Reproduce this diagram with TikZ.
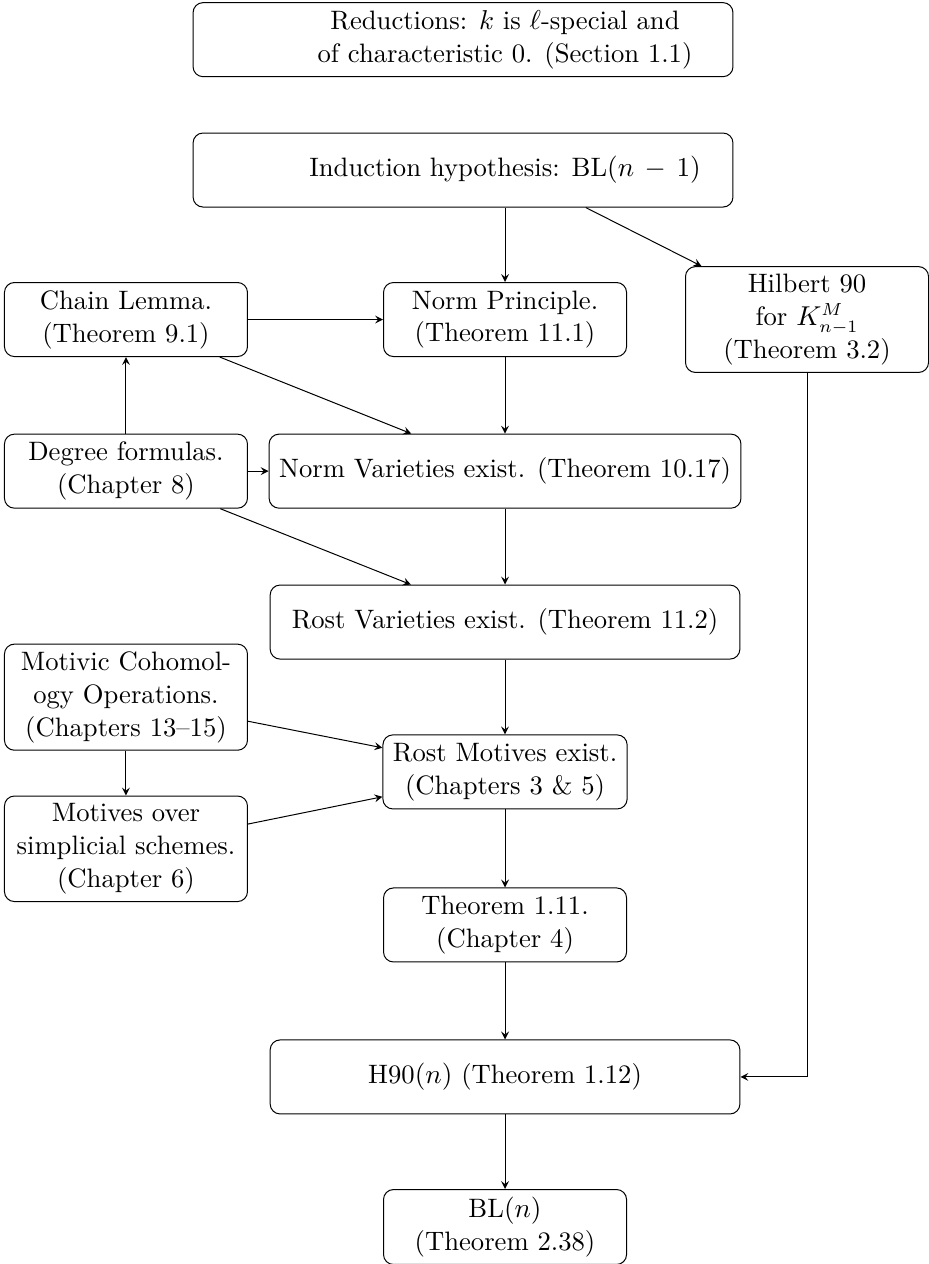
\documentclass[tikz,border=0pt]{standalone}
\usepackage{amsmath}
\usepackage{amssymb}
\usetikzlibrary{shapes,arrows,positioning,calc}

\tikzset{
  box/.style={draw,rectangle,rounded corners,align=center,minimum height=1.045cm,inner xsep=4pt,inner ysep=3pt,
    font=\fontsize{10.7}{13.2}\selectfont},
  smallbox/.style={box,minimum width=3.43cm},
  widebox/.style={box,minimum width=6.63cm},
  topbox/.style={box,minimum width=7.62cm},
  boxtext/.style={align=center,font=\fontsize{10.7}{13.2}\selectfont},
}

\begin{document}
\begin{tikzpicture}
    \useasboundingbox (0,0) rectangle (13.10,17.84);

    \node[topbox] (reduc) at (6.535,17.28) {};
    \node[topbox] (induc) at (6.535,15.44) {};

    \node[smallbox] (chain) at (1.778,13.33) {Chain Lemma.\\(Theorem 9.1)};
    \node[smallbox] (normpr) at (7.128,13.33) {Norm Principle.\\(Theorem 11.1)};
    \node[smallbox] (hilb) at (11.39,13.33) {Hilbert 90\\for $K^M_{n-1}$\\(Theorem 3.2)};

    % texts of the two top boxes sit over the middle column
    \node[boxtext] (reductext) at (reduc -| normpr) {Reductions: $k$ is $\ell$-special and\\of characteristic 0. (Section 1.1)};
    \node[boxtext] (inductext) at (induc -| normpr) {Induction hypothesis: BL$(n\,-\,1)$};

    \node[smallbox] (degree) at (1.778,11.19) {Degree formulas.\\(Chapter 8)};
    \node[widebox] (normvar) at (7.128,11.19) {Norm Varieties exist. (Theorem 10.17)};

    \node[widebox] (rostvar) at (7.128,9.06) {Rost Varieties exist. (Theorem 11.2)};

    \node[smallbox] (motcoh) at (1.778,8.00) {Motivic Cohomol-\\ogy Operations.\\(Chapters 13--15)};
    \node[smallbox] (rostmot) at (7.128,6.945) {Rost Motives exist.\\(Chapters 3 \& 5)};
    \node[smallbox] (simpl) at (1.778,5.86) {Motives over\\simplicial schemes.\\(Chapter 6)};

    \node[smallbox] (thmone) at (7.128,4.785) {Theorem 1.11.\\(Chapter 4)};
    \node[widebox] (hninety) at (7.128,2.64) {H90$(n)$ (Theorem 1.12)};
    \node[smallbox] (bln) at (7.128,0.522) {BL$(n)$\\(Theorem 2.38)};

    \draw[-stealth] (induc.south -| normpr) -- (normpr);
    \draw[-stealth] (induc.-17.5) -- (hilb);

    \draw[-stealth] (chain) -- (normpr);
    \draw[-stealth] (chain) -- (normvar);
    \draw[-stealth] (normpr) -- (normvar);

    \draw[-stealth] (degree) -- (chain);
    \draw[-stealth] (degree) -- (normvar);
    \draw[-stealth] (degree) -- (rostvar);

    \draw[-stealth] (normvar) -- (rostvar);
    \draw[-stealth] (rostvar) -- (rostmot);

    \draw[-stealth] (motcoh) -- (rostmot);
    \draw[-stealth] (motcoh) -- (simpl);
    \draw[-stealth] (simpl) -- (rostmot);

    \draw[-stealth] (rostmot) -- (thmone);
    \draw[-stealth] (thmone) -- (hninety);
    \draw[-stealth] (hilb) |- (hninety);
    \draw[-stealth] (hninety) -- (bln);
\end{tikzpicture}
\end{document}
